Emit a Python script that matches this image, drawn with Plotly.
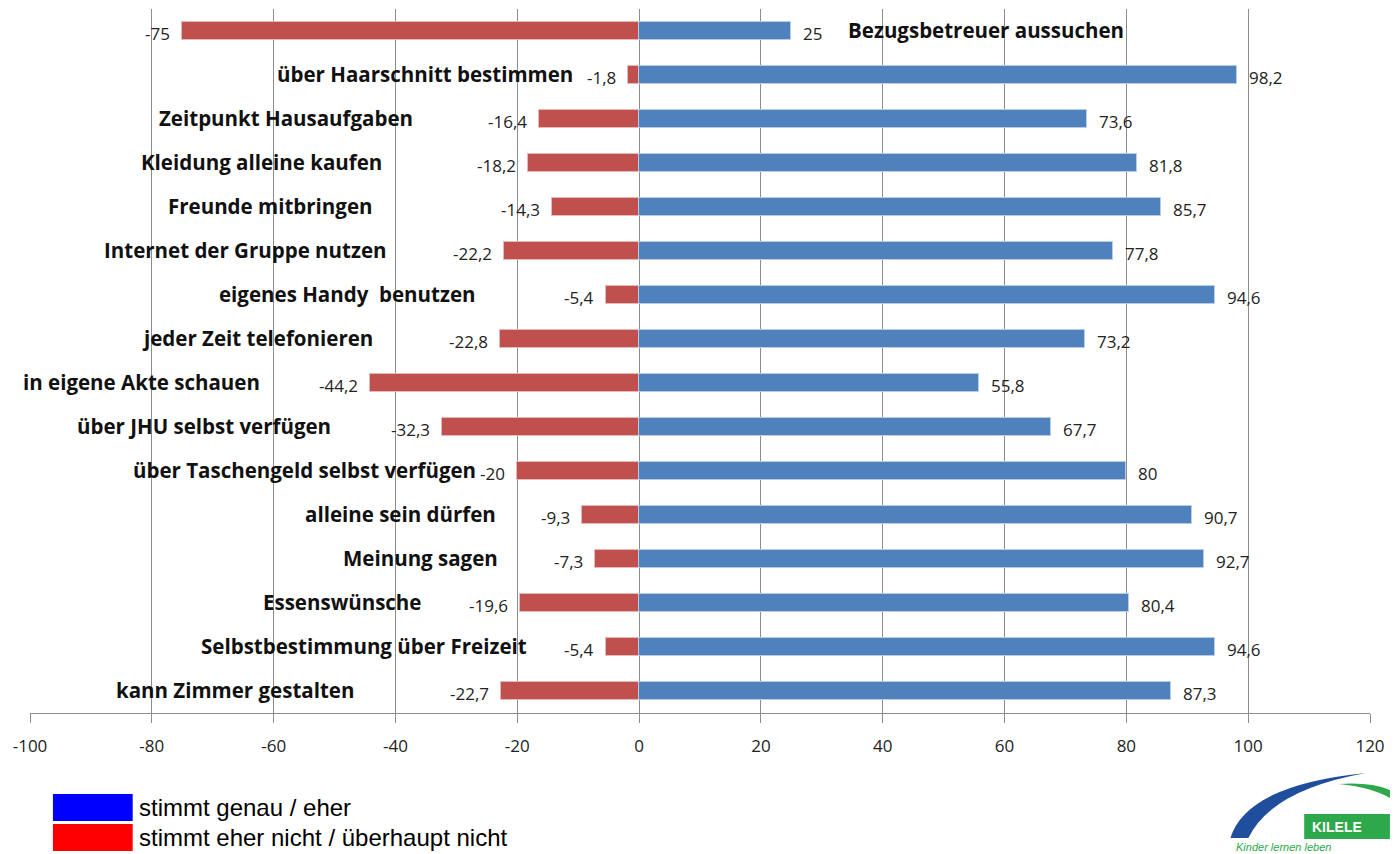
import plotly.graph_objects as go

categories = [
    "Bezugsbetreuer aussuchen",
    "über Haarschnitt bestimmen",
    "Zeitpunkt Hausaufgaben",
    "Kleidung alleine kaufen",
    "Freunde mitbringen",
    "Internet der Gruppe nutzen",
    "eigenes Handy  benutzen",
    "jeder Zeit telefonieren",
    "in eigene Akte schauen",
    "über JHU selbst verfügen",
    "über Taschengeld selbst verfügen",
    "alleine sein dürfen",
    "Meinung sagen",
    "Essenswünsche",
    "Selbstbestimmung über Freizeit",
    "kann Zimmer gestalten",
]
disagree = [-75, -1.8, -16.4, -18.2, -14.3, -22.2, -5.4, -22.8, -44.2, -32.3, -20, -9.3, -7.3, -19.6, -5.4, -22.7]
agree = [25, 98.2, 73.6, 81.8, 85.7, 77.8, 94.6, 73.2, 55.8, 67.7, 80, 90.7, 92.7, 80.4, 94.6, 87.3]
x_ticks = [-100, -80, -60, -40, -20, 0, 20, 40, 60, 80, 100, 120]
legend_labels = ["stimmt genau / eher", "stimmt eher nicht / überhaupt nicht"]

# layout: anchor (x in axis units) of each category label
label_anchor = [33.9, -10.6, -36.8, -41.9, -43.4, -41.1, -26.4, -43.4, -61.9, -50.2, -26.4, -23.1, -22.9, -35.5, -18.0, -46.5]

W, H = 1394, 854
L, R, T, B = 30, 20, 9, 141
pw, ph = W - L - R, H - T - B


def px(x):
    return (x - L) / pw


def py(y):
    return (H - B - y) / ph


BLUE = "#4F81BD"
RED = "#C0504D"
FONT = "Open Sans"

fig = go.Figure()
ys = list(range(len(categories)))
fig.add_trace(go.Bar(y=ys, x=disagree, orientation="h", marker=dict(color=RED, line=dict(color="#E6B9B8", width=1)),
                     width=0.39, showlegend=False, hoverinfo="x"))
fig.add_trace(go.Bar(y=ys, x=agree, orientation="h", marker=dict(color=BLUE, line=dict(color="#B9CDE5", width=1)),
                     width=0.39, showlegend=False, hoverinfo="x"))

ann = []
for i, (d, a) in enumerate(zip(disagree, agree)):
    ann.append(dict(x=d, y=i, xref="x", yref="y", text=f"{d:g}".replace(".", ","), showarrow=False,
                    xanchor="right", xshift=-10, yshift=-2, font=dict(family=FONT, size=17, color="#222")))
    ann.append(dict(x=a, y=i, xref="x", yref="y", text=f"{a:g}".replace(".", ","), showarrow=False,
                    xanchor="left", xshift=10, yshift=-2, font=dict(family=FONT, size=17, color="#222")))
for i, (c, xa) in enumerate(zip(categories, label_anchor)):
    ann.append(dict(x=xa, y=i, xref="x", yref="y", text=f"<b>{c}</b>", showarrow=False,
                    xanchor="left" if i == 0 else "right", yshift=1,
                    font=dict(family=FONT, size=20.5, color="#111")))

# legend (custom)
shapes = []
for j, col in enumerate(["#0000FF", "#FF0000"]):
    y0, y1 = 794 + j * 30, 821 + j * 30
    shapes.append(dict(type="rect", xref="paper", yref="paper", x0=px(53), x1=px(133), y0=py(y1), y1=py(y0),
                       fillcolor=col, line=dict(width=0)))
    ann.append(dict(xref="paper", yref="paper", x=px(137), y=py((y0 + y1) / 2), text=legend_labels[j],
                    showarrow=False, xanchor="left", yanchor="middle",
                    font=dict(family="Liberation Sans", size=24, color="#000")))

# logo approximation
def pth(points):
    s = ""
    for cmd, pts in points:
        s += cmd + " " + " ".join(f"{px(x):.5f},{py(y):.5f}" for x, y in pts) + " "
    return s + "Z"

shapes.append(dict(type="path", xref="paper", yref="paper",
                   path=pth([("M", [(1234, 838)]), ("Q", [(1250, 785), (1370, 773)]), ("Q", [(1275, 790), (1252, 838)])]),
                   fillcolor="#1F4E9C", line=dict(width=0)))
shapes.append(dict(type="path", xref="paper", yref="paper",
                   path=pth([("M", [(1343, 784)]), ("Q", [(1375, 782), (1394, 790)]), ("L", [(1394, 798)]), ("Q", [(1375, 787), (1343, 784)])]),
                   fillcolor="#2DA84A", line=dict(width=0)))
shapes.append(dict(type="rect", xref="paper", yref="paper", x0=px(1308), x1=px(1394), y0=py(839), y1=py(814),
                   fillcolor="#2DA84A", line=dict(width=0)))
ann.append(dict(xref="paper", yref="paper", x=px(1341), y=py(827), text="<b>KILELE</b>", showarrow=False,
                xanchor="center", yanchor="middle",
                font=dict(family="Liberation Sans", size=14, color="white")))
ann.append(dict(xref="paper", yref="paper", x=px(1238), y=py(839), text="<i>Kinder lernen leben</i>", showarrow=False,
                xanchor="left", yanchor="top", font=dict(family="Liberation Sans", size=11, color="#2DA84A")))

fig.update_layout(
    width=W, height=H, autosize=False,
    margin=dict(l=L, r=R, t=T, b=B),
    paper_bgcolor="white", plot_bgcolor="white",
    barmode="overlay", bargap=0,
    xaxis=dict(range=[-100, 120], tickvals=x_ticks, ticktext=[str(t) for t in x_ticks],
               showgrid=True, gridcolor="#8C8C8C", gridwidth=1, zeroline=False,
               showline=True, linecolor="#8C8C8C", linewidth=1, ticks="outside", ticklen=9, tickcolor="#8C8C8C",
               tickfont=dict(family=FONT, size=17, color="#222"), ticklabelstandoff=9, fixedrange=True),
    yaxis=dict(range=[len(categories) - 0.5, -0.5], showgrid=False, zeroline=False, showticklabels=False,
               showline=False, fixedrange=True),
    annotations=ann, shapes=shapes,
)

fig.write_html("out.html")
